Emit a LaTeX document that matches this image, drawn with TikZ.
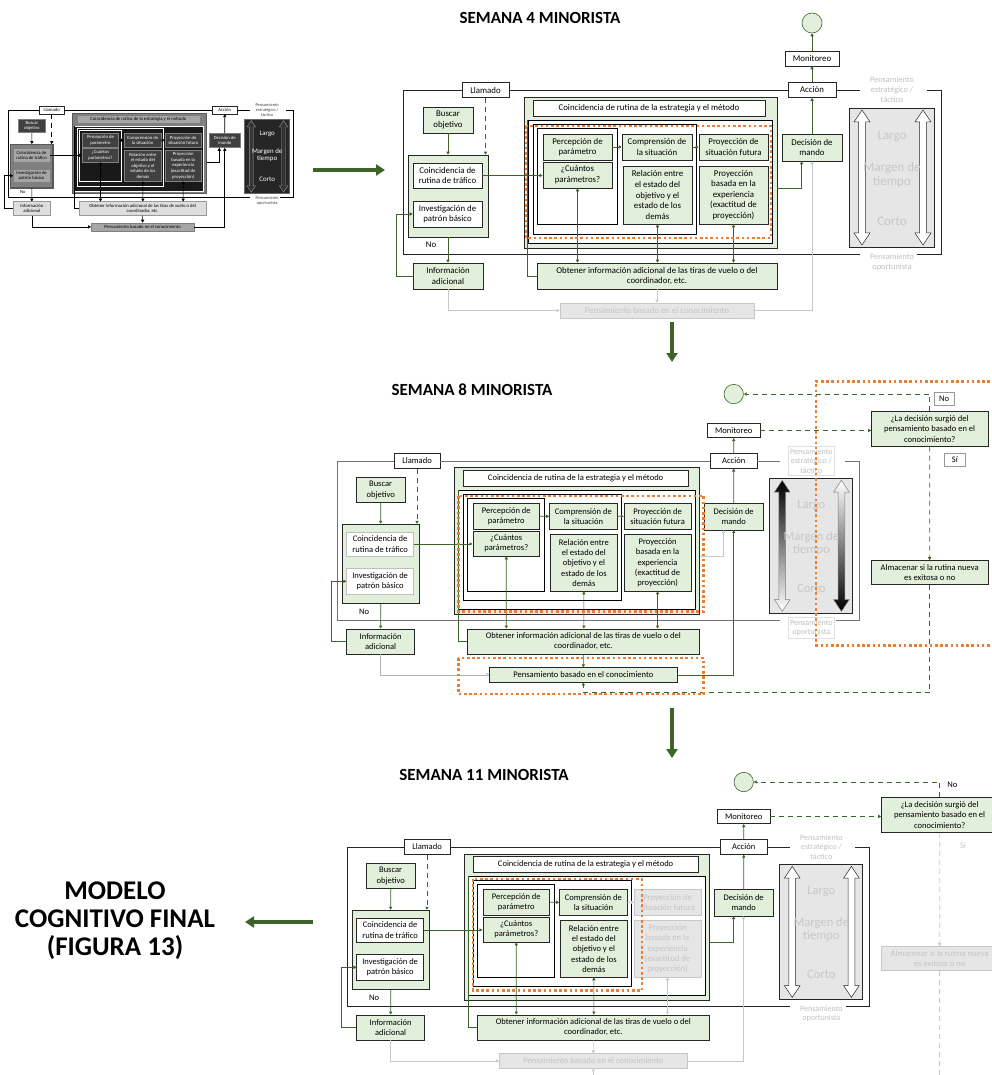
\documentclass[tikz,border=0pt]{standalone}
\usepackage{fontspec}
\setmainfont{Carlito}
\usetikzlibrary{positioning, arrows.meta, shapes.geometric}

\definecolor{grn}{HTML}{E2EFDA}
\definecolor{dgrn}{HTML}{3D6428}
\definecolor{orng}{HTML}{ED7D31}
\definecolor{lgry}{HTML}{E7E6E6}
\definecolor{mgry}{HTML}{C4C4C4}

% double headed arrow of the time margin column
\newcommand{\timearrow}[2]{%
  \path[#1, shift={(#2,0)}] (-3.5,32) -- (-8,32) -- (0,20) -- (8,32) -- (3.5,32)
    -- (3.5,143) -- (8,143) -- (0,155) -- (-8,143) -- (-3.5,143) -- cycle;}

% one copy of the cognitive model, #1 = prefix of node names
\newcommand{\cogmodel}[1]{%
  % ---- frame ----
  \node[lbl, minimum width=47] (#1call) at (82.5,0) {Llamado};
  \node[lbl, minimum width=48] (#1act) at (409,0) {Acción};
  \node[ttl] (#1strat) at (489,0) {Pensamiento\\estratégico /\\táctico};
  \node[ttl] (#1opp) at (489,172) {Pensamiento\\oportunista};
  \draw[frm] (#1call.west) -| (0,164) -- (457,164);
  \draw[frm] (#1call.east) -- (#1act.west);
  \draw[frm] (#1act.east) -- (457,0);
  \draw[frm] (524,0) -- (538,0) -- (538,164) -- (514,164);
  % ---- left column ----
  \node[gbox, minimum width=50, minimum height=26] (#1find) at (45,30) {Buscar\\objetivo};
  \node[cont, minimum width=80, minimum height=82] (#1lc) at (45,106) {};
  \node[wbox, minimum width=69, minimum height=25] (#1trf) at (44.5,85.5) {Coincidencia de\\rutina de tráfico};
  \node[wbox, minimum width=69, minimum height=26] (#1inv) at (44.5,124) {Investigación de\\patrón básico};
  \node[inner sep=1pt] (#1no) at (28,155) {No};
  \node[lbox, minimum width=70, minimum height=26] (#1info) at (45,186) {Información\\adicional};
  % ---- strategy block ----
  \node[cont, minimum width=253, minimum height=151] (#1sc) at (247.5,82.5) {};
  \node[hbox, minimum width=232, minimum height=16] (#1hdr) at (246,18) {Coincidencia de rutina de la estrategia y el método};
  \node[sabox, minimum width=244, minimum height=123] (#1sa3) at (247,91.5) {};
  \node[sabox, minimum width=163, minimum height=110] (#1sa2) at (211.5,89) {};
  \node[sabox, minimum width=80, minimum height=96] (#1sa1) at (174,86) {};
  \node[gbox, minimum width=69, minimum height=26] (#1per) at (174.5,57) {Percepción de\\parámetro};
  \node[gbox, minimum width=69, minimum height=26] (#1how) at (174.5,85) {¿Cuántos\\parámetros?};
  \node[gbox, minimum width=70, minimum height=26] (#1cmp) at (254,57) {Comprensión de\\la situación};
  \node[gbox, minimum width=69, minimum height=58] (#1rel) at (254.5,105)
    {Relación entre\\el estado del\\objetivo y el\\estado de los\\demás};
  \node[pbox, minimum width=69, minimum height=26] (#1fut) at (330.5,57) {Proyección de\\situación futura};
  \node[pbox, minimum width=69, minimum height=58] (#1exp) at (330.5,105)
    {Proyección\\basada en la\\experiencia\\(exactitud de\\proyección)};
  \node[lbox, minimum width=240, minimum height=26] (#1obt) at (254,186)
    {Obtener información adicional de las tiras de vuelo o del\\coordinador, etc.};
  \node[gbox, minimum width=60, minimum height=27] (#1dec) at (409,57.5) {Decisión de\\mando};
  \node[kbox, minimum width=194, minimum height=15] (#1kno) at (254,220.5) {Pensamiento basado en el conocimiento};
  % ---- time margin ----
  \node[tcol, minimum width=85, minimum height=139] (#1tm) at (488.5,87.5) {};
  \timearrow{larr}{459}
  \timearrow{rarr}{520}
  \node[ttxt] (#1lng) at (489,46) {Largo};
  \node[ttxt] (#1mrg) at (489,85) {Margen de\\tiempo};
  \node[ttxt] (#1sht) at (489,131) {Corto};
  % ---- connectors ----
  \draw[flow] (#1find) -- (#1lc);
  \draw[qflow] (#1call.south) -- (#1call.south |- #1lc.north);
  \draw[flow] (#1lc) -- (#1info);
  \draw[flow] (#1info.west) -- ++(-16,0) |- (#1inv.west);
  \draw[flow] (#1trf.east) -- (#1trf.east -| #1how.west);
  \draw[flow] (#1per) -- (#1cmp);
  \draw[pflow] (#1cmp) -- (#1fut);
  \draw[bflow] (#1how) -- (#1how |- #1obt.north);
  \draw[bflow] (#1rel) -- (#1rel |- #1obt.north);
  \draw[pbflow] (#1exp) -- (#1exp |- #1obt.north);
  \draw[link] (#1obt.west) -| (#1sa3.north west);
  \draw[scflow] (#1sc.east |- 0,98) -| (#1dec.233);
  \draw[knflow] (#1kno.east) -| (#1dec.south);
  \draw[flow] (#1dec) -- (#1act);
  \draw[inflow] (#1info.south) |- (#1kno.west);
  \draw[obflow] (#1obt) -- (#1kno);
}

\begin{document}
\begin{tikzpicture}[x=1pt, y=-1pt,
    every node/.style={font=\fontsize{8.8}{10.6}\selectfont},
    box/.style={draw=black!85, line width=0.6pt, align=center, inner sep=1pt, text=black},
    act/.style={box, fill=grn},
    wht/.style={box, fill=white},
    inact/.style={box, draw=black!22, fill=lgry, text=mgry},
    lbl/.style={wht, minimum height=15},
    gbox/.style={act}, lbox/.style={act}, pbox/.style={act},
    wbox/.style={wht}, hbox/.style={wht}, kbox/.style={inact},
    cont/.style={draw=black!85, line width=0.6pt, fill=grn},
    sabox/.style={draw=black, line width=0.6pt, fill=white},
    frm/.style={draw=black!85, line width=0.7pt},
    tcol/.style={draw=black!85, line width=0.6pt, fill=lgry},
    larr/.style={draw=black!85, line width=0.5pt, fill=white},
    rarr/.style={larr},
    ttxt/.style={text=black!22, align=center, font=\fontsize{13}{14}\selectfont},
    ttl/.style={text=black!25, align=center, inner sep=1pt, font=\fontsize{8.3}{10}\selectfont},
    atip/.style={-{Triangle[length=3pt,width=3.2pt]}},
    btips/.style={{Triangle[length=3pt,width=3.2pt]}-{Triangle[length=3pt,width=3.2pt]}},
    flow/.style={draw=dgrn, line width=0.7pt, atip},
    bflow/.style={draw=dgrn, line width=0.7pt, btips},
    gflow/.style={draw=black!22, line width=0.7pt, atip},
    gbflow/.style={draw=black!22, line width=0.7pt, btips},
    qflow/.style={flow, dash pattern=on 5pt off 4pt},
    gqflow/.style={gflow, dash pattern=on 5pt off 4pt},
    link/.style={draw=dgrn, line width=0.7pt},
    pflow/.style={flow}, pbflow/.style={bflow},
    inflow/.style={gflow}, obflow/.style={gflow},
    scflow/.style={flow}, knflow/.style={gflow},
    endc/.style={circle, draw=dgrn, fill=grn, line width=0.6pt, minimum size=20, inner sep=0pt},
    ask/.style={act, minimum width=120, minimum height=36},
    tag/.style={wht, draw=black!40, minimum width=21, minimum height=13},
    sawin/.style={draw=orng, line width=2.6pt, dash pattern=on 2.6pt off 2.6pt},
    bigarr/.style={draw=dgrn, line width=3.5pt, -{Triangle[length=9pt,width=11pt]}},
    headline/.style={font=\fontsize{17}{20}\selectfont\bfseries},
    final/.style={align=center, font=\fontsize{27}{28}\selectfont\bfseries},
    % ---- colour schemes of the copies ----
    thumb/.style={
      frm/.style={draw=black, line width=0.5pt},
      gbox/.style={box, draw=black!50, fill=black!75, text=white},
      pbox/.style={box, draw=black!50, fill=black!75, text=white},
      lbox/.style={box, draw=black!40, fill=black!13},
      wbox/.style={box, draw=black!50, fill=black!35},
      hbox/.style={box, draw=black!50, fill=black!35},
      kbox/.style={box, draw=black!50, fill=black!35},
      cont/.style={draw=black!65, line width=1.2pt, fill=black!50},
      sabox/.style={draw=white, line width=0.7pt, fill=black!90},
      tcol/.style={draw=black!60, line width=0.8pt, fill=black!85},
      larr/.style={draw=black!40, line width=0.4pt, fill=black!80},
      ttxt/.style={text=white, align=center, font=\fontsize{13}{14}\selectfont},
      ttl/.style={text=black!75, align=center, inner sep=1pt, font=\fontsize{8.3}{10}\selectfont},
      flow/.style={draw=black, line width=0.6pt, atip},
      bflow/.style={draw=black, line width=0.6pt, btips},
      gflow/.style={flow}, gbflow/.style={bflow},
      link/.style={draw=black, line width=0.6pt}},
    wk8/.style={
      frm/.style={draw=black!55, line width=0.7pt},
      wbox/.style={box, draw=black!25, fill=white},
      kbox/.style={act},
      inflow/.style={draw=black!30, line width=0.7pt, -{Circle[open,length=3pt]}},
      obflow/.style={flow}, scflow/.style={gflow}, knflow/.style={flow},
      larr/.style={draw=black!50, line width=0.5pt, top color=black, bottom color=white},
      rarr/.style={draw=black!50, line width=0.5pt, top color=white, bottom color=black},
      ttl/.style={text=black!25, align=center, inner sep=2pt, draw=black!12, fill=white,
                  font=\fontsize{8.3}{10}\selectfont}},
    wk11/.style={
      pbox/.style={inact}, pflow/.style={gflow}, pbflow/.style={gbflow}},
  ]
  \useasboundingbox (0,0) rectangle (992,1075);

  % ---- starting model (thumbnail) ----------------------------------
  \begin{scope}[shift={(8,110)}, scale=0.53, transform shape, thumb]
    \cogmodel{t}
  \end{scope}

  % ---- week 4 ------------------------------------------------------
  \node[headline] (t4) at (540,18) {SEMANA 4 MINORISTA};
  \begin{scope}[shift={(403,90)}]
    \cogmodel{a}
    \node[lbl, minimum width=54] (amon) at (409,-31.5) {Monitoreo};
    \node[endc] (aend) at (409,-67) {};
    \draw[flow] (aact) -- (amon);
    \draw[flow] (amon) -- (aend);
    \draw[sawin] (123,36) rectangle (368,148);
  \end{scope}

  % ---- week 8 ------------------------------------------------------
  \node[headline] (t8) at (472,390) {SEMANA 8 MINORISTA};
  \begin{scope}[shift={(337,461)}, scale=0.97, transform shape, wk8]
    \cogmodel{b}
    \node[lbl, minimum width=54] (bmon) at (409,-31.5) {Monitoreo};
    \node[endc] (bend) at (409,-69) {};
    \node[ask] (bask) at (611,-33) {¿La decisión surgió del\\pensamiento basado en el\\conocimiento?};
    \node[tag] (bno) at (626,-64) {No};
    \node[tag] (bsi) at (637,-1.5) {Sí};
    \node[act, minimum width=120, minimum height=25] (bsto) at (611,115)
      {Almacenar si la rutina nueva\\es exitosa o no};
    \coordinate (bturn) at (611,239);
    \draw[flow] (bact) -- (bmon);
    \draw[qflow] (bmon.east) -- (bmon.east -| bask.west);
    \draw[qflow] (bask.north) |- (bend.east);
    \draw[qflow] (bask) -- (bsto);
    \draw[qflow] (bsto.south) -- (bturn) -| (bkno.south);
    \draw[sawin] (125,36) rectangle (378,155);
    \draw[sawin] (125,203) rectangle (378,240);
    \draw[sawin] (700,-82) -- (494,-82) -- (494,190) -- (700,190);
  \end{scope}

  % ---- week 11 -----------------------------------------------------
  \node[headline] (t11) at (484,775) {SEMANA 11 MINORISTA};
  \begin{scope}[shift={(347,847)}, scale=0.97, transform shape, wk11]
    \cogmodel{c}
    \node[lbl, minimum width=54] (cmon) at (409,-31.5) {Monitoreo};
    \node[endc] (cend) at (409,-67) {};
    \node[ask] (cask) at (611,-33) {¿La decisión surgió del\\pensamiento basado en el\\conocimiento?};
    \node[inner sep=1pt] (cno) at (624,-64) {No};
    \node[inner sep=1pt, text=mgry] (csi) at (635,-1) {Sí};
    \node[inact, minimum width=120, minimum height=25] (csto) at (611,115)
      {Almacenar si la rutina nueva\\es exitosa o no};
    \coordinate (cturn) at (611,250);
    \draw[flow] (cact) -- (cmon);
    \draw[qflow] (cmon.east) -- (cmon.east -| cask.west);
    \draw[qflow] (cask.north) |- (cend.east);
    \draw[gqflow] (cask) -- (csto);
    \draw[gqflow] (csto.south) -- (cturn) -| (ckno.south);
    \draw[sawin] (130,33) rectangle (304,148);
  \end{scope}

  % ---- final model and big arrows ----------------------------------
  \node[final] (fin) at (115,921) {MODELO\\COGNITIVO FINAL\\(FIGURA 13)};
  \coordinate (g1s) at (313,170);
  \coordinate (g1e) at (385,170);
  \coordinate (g2s) at (672,322);
  \coordinate (g2e) at (672,362);
  \coordinate (g3s) at (672,708);
  \coordinate (g3e) at (672,758);
  \coordinate (g4s) at (313,922);
  \coordinate (g4e) at (245,922);
  \draw[bigarr] (g1s) -- (g1e);
  \draw[bigarr] (g2s) -- (g2e);
  \draw[bigarr] (g3s) -- (g3e);
  \draw[bigarr] (g4s) -- (g4e);

\end{tikzpicture}
\end{document}
